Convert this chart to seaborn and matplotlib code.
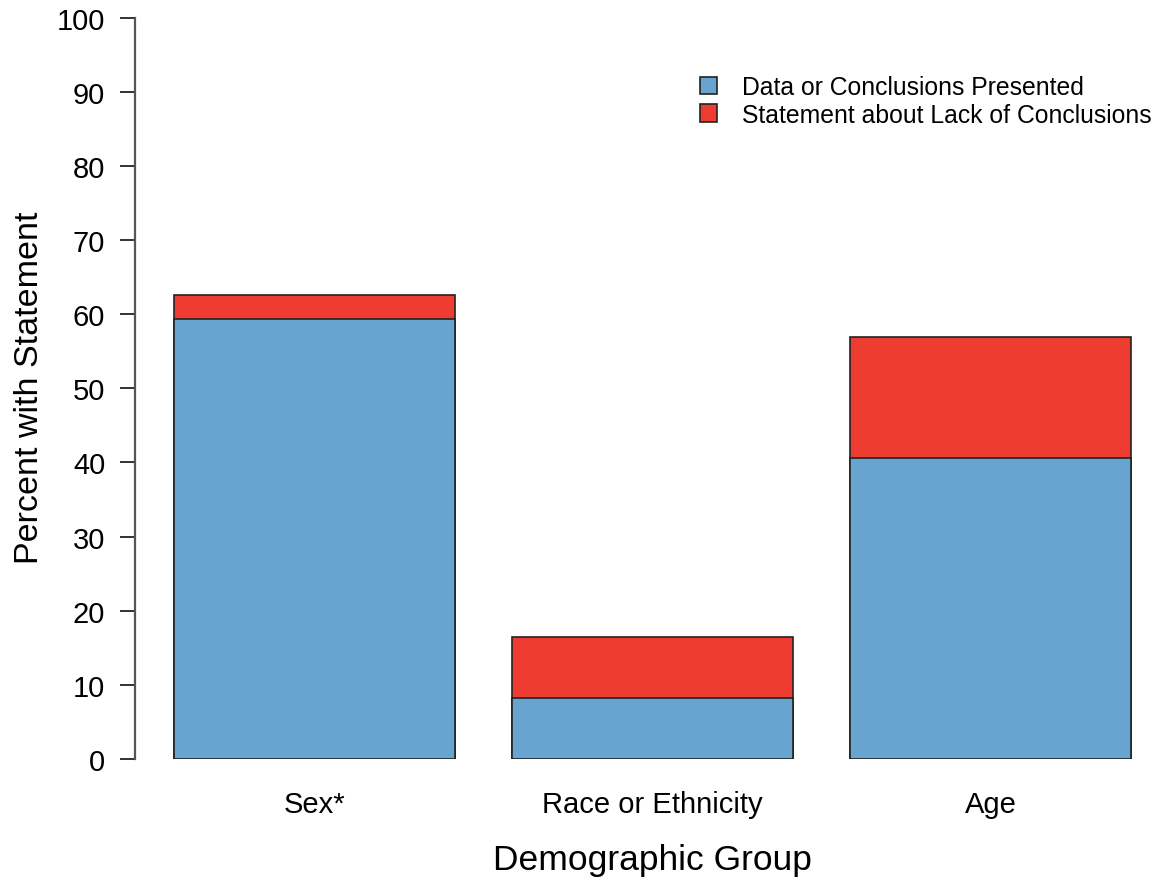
import matplotlib
matplotlib.use("Agg")
import matplotlib.pyplot as plt
from matplotlib.patches import Patch
import seaborn as sns
import pandas as pd

# Share of reports with a statement, by demographic group
groups = ["Sex*", "Race or Ethnicity", "Age"]
data_presented = [59.4, 8.2, 40.6]
lack_of_conclusions = [3.2, 8.2, 16.3]
series_labels = ["Data or Conclusions Presented", "Statement about Lack of Conclusions"]

blue = "#67A5D0"
red = "#EE3C30"

df = pd.DataFrame({
    "group": groups,
    "presented": data_presented,
    "total": [a + b for a, b in zip(data_presented, lack_of_conclusions)],
})

sns.set_style("white")
plt.rcParams["font.family"] = ["Liberation Sans", "DejaVu Sans"]
plt.rcParams["text.color"] = "black"
plt.rcParams["axes.labelcolor"] = "black"
plt.rcParams["xtick.color"] = "black"
plt.rcParams["ytick.color"] = "black"

W, H = 1157, 878
fig = plt.figure(figsize=(W / 100, H / 100), dpi=100)
ax = fig.add_axes([135 / W, 118 / H, 1 - 135 / W, (760 - 18.5) / H])

bar_w = 0.831
# red layer spans the full stacked height, blue layer drawn on top of it
sns.barplot(data=df, x="group", y="total", color=red, width=bar_w,
            edgecolor="#222222", linewidth=1.2, saturation=1, ax=ax)
sns.barplot(data=df, x="group", y="presented", color=blue, width=bar_w,
            edgecolor="#222222", linewidth=1.2, saturation=1, ax=ax)

ax.set_xlim(-0.531, 2.493)
ax.set_ylim(0, 100)
ax.set_yticks(range(0, 101, 10))
for side in ["top", "right", "bottom"]:
    ax.spines[side].set_visible(False)
ax.spines["left"].set_color("#555555")
ax.spines["left"].set_linewidth(1.6)

ax.tick_params(axis="y", which="major", length=11, width=1.4, color="#333333",
               labelsize=21, pad=10.5, left=True)
ax.tick_params(axis="x", length=0, labelsize=21, pad=22)

ax.set_xlabel("Demographic Group", fontsize=25.5)
ax.set_ylabel("Percent with Statement", fontsize=24.5)
ax_w_px = W - 135
ax_h_px = 760 - 18.5
ax.xaxis.label.set_va("center")
ax.xaxis.set_label_coords((652 - 135) / ax_w_px, (760 - 861) / ax_h_px)
ax.yaxis.label.set_va("center")
ax.yaxis.label.set_rotation_mode("default")
ax.yaxis.set_label_coords((30 - 135) / ax_w_px, (760 - 388) / ax_h_px)

handles = [Patch(facecolor=blue, edgecolor="#222222", linewidth=1.2),
           Patch(facecolor=red, edgecolor="#222222", linewidth=1.2)]
ax.legend(handles, series_labels, loc="upper left",
          bbox_to_anchor=((700 - 135) / ax_w_px, (760 - 76) / ax_h_px),
          frameon=False, fontsize=17.8, handlelength=0.7, handleheight=0.7,
          handletextpad=1.0, labelspacing=0.15, borderaxespad=0, borderpad=0)

fig.savefig("out.png", dpi=100)
